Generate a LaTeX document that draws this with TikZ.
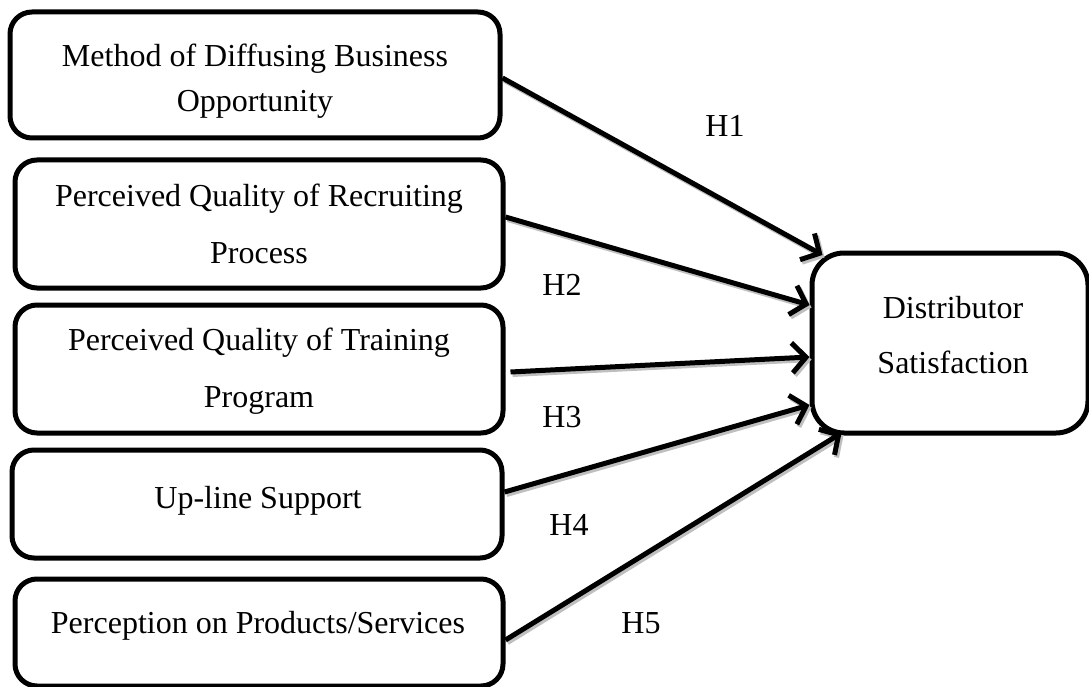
\documentclass[tikz,border=0pt]{standalone}
\usepackage{fontspec}
\setmainfont{Liberation Serif}
\usetikzlibrary{arrows.meta}

\tikzset{
  box/.style={draw, line width=5pt, rounded corners=22pt, inner sep=0pt, fill=white},
  bigbox/.style={box, rounded corners=32pt},
  txt/.style={anchor=base, inner sep=0pt, font=\fontsize{32}{40}\selectfont},
  linkbase/.style={line width=5pt,
    -{Straight Barb[length=14pt, width=30pt, line width=5pt]}},
  link/.style={linkbase, draw=black},
  linkshadow/.style={linkbase, draw=gray!50}
}
% a hypothesis connector with its soft drop shadow
\newcommand{\hyplink}[2]{%
  \begin{scope}[transform canvas={shift={(2pt,-2.5pt)}}]
    \draw[linkshadow] #1 -- #2;
  \end{scope}
  \draw[link] #1 -- #2;}

\begin{document}
\begin{tikzpicture}[x=1pt, y=-1pt]
\useasboundingbox (0,0) rectangle (1089,687);

% source boxes
\node[box, minimum width=490pt, minimum height=126pt] (b1) at (255,75) {};
\node[box, minimum width=488pt, minimum height=128pt] (b2) at (259,224) {};
\node[box, minimum width=488pt, minimum height=128pt] (b3) at (259,369) {};
\node[box, minimum width=490pt, minimum height=108pt] (b4) at (257,504) {};
\node[box, minimum width=488pt, minimum height=107pt] (b5) at (259,632.5) {};

% target box
\node[bigbox, minimum width=276pt, minimum height=180pt] (d) at (950,343) {};

% box texts
\node[txt] (t1a) at (255,67) {Method of Diffusing Business};
\node[txt] (t1b) at (255,112) {Opportunity};
\node[txt] (t2a) at (259,207) {Perceived Quality of Recruiting};
\node[txt] (t2b) at (259,263) {Process};
\node[txt] (t3a) at (259,350) {Perceived Quality of Training};
\node[txt] (t3b) at (259,407) {Program};
\node[txt] (t4) at (258,508) {Up-line Support};
\node[txt] (t5) at (258,633) {Perception on Products/Services};
\node[txt] (tda) at (953,318) {Distributor};
\node[txt] (tdb) at (953,373) {Satisfaction};

% hypotheses
\hyplink{([yshift=-3pt]b1.east)}{([xshift=13pt, yshift=-4.5pt]d.north west)}
\hyplink{([yshift=7pt]b2.east)}{([yshift=38pt]d.west)}
\hyplink{([xshift=5pt, yshift=-3pt]b3.east)}{([yshift=-14pt]d.west)}
\hyplink{([yshift=12pt]b4.east)}{([yshift=-62pt]d.west)}
\hyplink{([yshift=-7.5pt]b5.east)}{([xshift=32pt, yshift=2.5pt]d.south west)}

% hypothesis labels
\node[txt] (h1) at (725,137) {H1};
\node[txt] (h2) at (562,295) {H2};
\node[txt] (h3) at (562,427) {H3};
\node[txt] (h4) at (569,535) {H4};
\node[txt] (h5) at (641,633) {H5};
\end{tikzpicture}
\end{document}
